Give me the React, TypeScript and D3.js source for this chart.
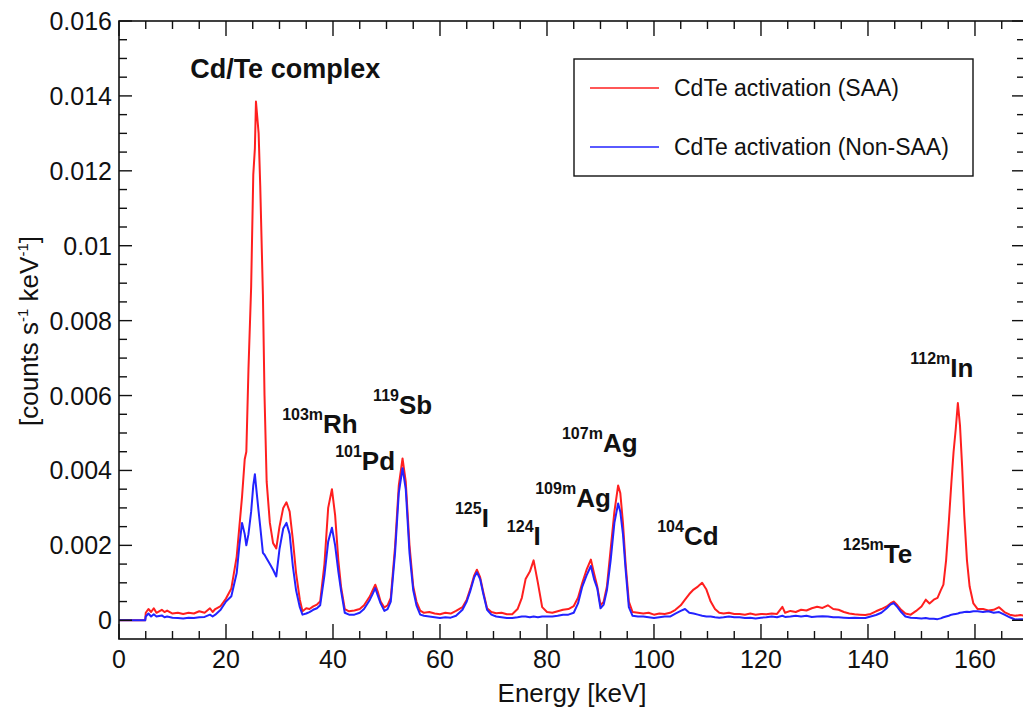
import React from "react";
import * as d3 from "d3";

// Spectrum values, in units of 1e-3 counts s^-1 keV^-1, as [energy keV, value]
const saaSeries: [number, number][] = [
  [0, 0], [4.9, 0], [5.0, 0.2], [5.5, 0.3], [6, 0.22], [6.5, 0.32], [7, 0.2], [8, 0.28], [8.5, 0.22], [9, 0.26],
  [10, 0.18], [11, 0.2], [12, 0.17], [13, 0.2], [14, 0.18], [15, 0.24], [16, 0.2], [17, 0.32], [17.5, 0.22], [18, 0.3],
  [19, 0.38], [20, 0.58], [21, 0.85], [22, 1.7], [22.5, 2.5], [23, 3.3], [23.5, 4.3], [23.8, 4.5], [24.2, 6.7], [24.7, 8.9],
  [25.1, 11.9], [25.4, 12.6], [25.6, 13.85], [26.1, 13.0], [26.4, 11.6], [26.9, 8.7], [27.2, 6.0], [27.6, 3.7], [28.2, 2.6], [28.8, 2.06],
  [29.4, 1.92], [30, 2.5], [30.7, 3.0], [31.3, 3.15], [31.9, 2.9], [32.5, 2.15], [33.1, 1.26], [33.8, 0.55], [34.3, 0.24], [35, 0.32],
  [35.6, 0.3], [36.3, 0.37], [37, 0.42], [37.6, 0.5], [38.4, 1.5], [39.1, 3.0], [39.8, 3.5], [40.4, 2.8], [41, 1.6], [41.5, 0.9],
  [42.2, 0.3], [43, 0.24], [44, 0.26], [45, 0.3], [45.8, 0.4], [46.9, 0.64], [47.4, 0.8], [47.9, 0.95], [48.4, 0.75], [48.9, 0.5],
  [49.6, 0.34], [50.2, 0.4], [50.8, 0.6], [51.6, 1.97], [52.3, 3.6], [53.0, 4.32], [53.6, 3.7], [54.3, 2.0], [55.0, 0.9], [55.6, 0.5],
  [56.3, 0.26], [57, 0.2], [58, 0.22], [59, 0.18], [60, 0.16], [61, 0.2], [62, 0.18], [63, 0.25], [64.2, 0.35], [65, 0.55],
  [65.7, 0.85], [66.4, 1.2], [66.9, 1.35], [67.5, 1.15], [68.1, 0.75], [68.8, 0.32], [69.6, 0.22], [70.5, 0.19], [71.5, 0.2], [72.5, 0.16],
  [73.5, 0.16], [74.5, 0.3], [75.3, 0.6], [76, 1.1], [76.8, 1.3], [77.5, 1.6], [78.3, 1.0], [79.1, 0.35], [80, 0.22], [81, 0.2],
  [82, 0.24], [83, 0.28], [84, 0.3], [85, 0.38], [85.8, 0.6], [86.6, 1.0], [87.4, 1.35], [88.2, 1.62], [88.8, 1.25], [89.4, 0.9],
  [90, 0.4], [90.6, 0.5], [91.2, 0.9], [91.9, 1.9], [92.6, 2.9], [93.3, 3.6], [93.7, 3.4], [94.2, 2.6], [94.7, 1.5], [95.3, 0.5],
  [96, 0.22], [97, 0.2], [98, 0.18], [99, 0.2], [100, 0.15], [101, 0.18], [102, 0.17], [103, 0.2], [104, 0.28], [105, 0.4],
  [105.8, 0.55], [106.6, 0.7], [107.4, 0.82], [108.2, 0.9], [109, 1.0], [109.8, 0.82], [110.6, 0.5], [111.4, 0.3], [112.2, 0.2], [113, 0.18],
  [114, 0.2], [115, 0.17], [116, 0.17], [117, 0.15], [118, 0.18], [119, 0.15], [120, 0.17], [121, 0.16], [122, 0.18], [123, 0.17],
  [124, 0.36], [124.5, 0.2], [125.5, 0.25], [126.5, 0.22], [127.5, 0.28], [128.5, 0.26], [129.5, 0.32], [130.5, 0.36], [131.5, 0.33], [132.5, 0.4],
  [133.5, 0.3], [134.5, 0.28], [135.5, 0.22], [136.5, 0.18], [137.5, 0.16], [138.5, 0.15], [139.5, 0.14], [140.5, 0.17], [141.5, 0.24], [142.5, 0.3],
  [143.5, 0.37], [144.2, 0.45], [144.8, 0.5], [145.5, 0.4], [146.2, 0.28], [147, 0.18], [148, 0.15], [149, 0.25], [150, 0.37], [150.8, 0.55],
  [151.5, 0.45], [152.3, 0.55], [153, 0.6], [153.6, 0.8], [154.1, 0.95], [154.6, 1.6], [155.1, 2.6], [155.6, 3.7], [156.0, 4.5], [156.4, 5.1],
  [156.8, 5.8], [157.2, 5.2], [157.6, 4.1], [158.0, 2.8], [158.5, 1.6], [159.0, 0.9], [159.7, 0.45], [160.5, 0.3], [161.5, 0.3], [162.5, 0.26],
  [163.5, 0.28], [164.5, 0.35], [165.5, 0.22], [166.5, 0.15], [167.5, 0.12], [168.5, 0.14], [169.5, 0.12],
];

const nonSaaSeries: [number, number][] = [
  [0, 0], [4.9, 0], [5.0, 0.1], [5.5, 0.18], [6, 0.1], [6.5, 0.16], [7, 0.1], [8, 0.13], [8.5, 0.08], [9, 0.1],
  [10, 0.07], [11, 0.06], [12, 0.05], [13, 0.07], [14, 0.06], [15, 0.08], [16, 0.09], [17, 0.15], [17.5, 0.1], [18, 0.15],
  [19, 0.28], [20, 0.5], [21, 0.64], [22, 1.26], [22.5, 2.0], [23, 2.6], [23.5, 2.3], [23.8, 2.0], [24.2, 2.3], [24.7, 2.9],
  [25.1, 3.6], [25.4, 3.9], [25.6, 3.6], [26.1, 2.9], [26.4, 2.5], [26.9, 1.8], [27.2, 1.75], [27.6, 1.65], [28.2, 1.5], [28.8, 1.35],
  [29.4, 1.17], [30, 1.9], [30.7, 2.45], [31.3, 2.6], [31.9, 2.3], [32.5, 1.44], [33.1, 0.8], [33.8, 0.35], [34.3, 0.15], [35, 0.18],
  [35.6, 0.22], [36.3, 0.28], [37, 0.32], [37.6, 0.4], [38.4, 1.2], [39.1, 2.1], [39.8, 2.47], [40.4, 2.0], [41, 1.3], [41.5, 0.8],
  [42.2, 0.2], [43, 0.15], [44, 0.15], [45, 0.2], [45.8, 0.3], [46.9, 0.55], [47.4, 0.7], [47.9, 0.86], [48.4, 0.65], [48.9, 0.45],
  [49.6, 0.25], [50.2, 0.3], [50.8, 0.5], [51.6, 1.8], [52.3, 3.4], [53.0, 4.06], [53.6, 3.5], [54.3, 1.8], [55.0, 0.8], [55.6, 0.4],
  [56.3, 0.15], [57, 0.12], [58, 0.1], [59, 0.08], [60, 0.06], [61, 0.08], [62, 0.07], [63, 0.12], [64.2, 0.28], [65, 0.5],
  [65.7, 0.8], [66.4, 1.15], [66.9, 1.28], [67.5, 1.1], [68.1, 0.7], [68.8, 0.28], [69.6, 0.15], [70.5, 0.1], [71.5, 0.08], [72.5, 0.06],
  [73.5, 0.06], [74.5, 0.08], [75.3, 0.1], [76, 0.1], [76.8, 0.08], [77.5, 0.1], [78.3, 0.08], [79.1, 0.1], [80, 0.1], [81, 0.1],
  [82, 0.12], [83, 0.15], [84, 0.15], [85, 0.2], [85.8, 0.45], [86.6, 0.9], [87.4, 1.2], [88.2, 1.45], [88.8, 1.1], [89.4, 0.85],
  [90, 0.32], [90.6, 0.42], [91.2, 0.8], [91.9, 1.6], [92.6, 2.6], [93.3, 3.12], [93.7, 2.9], [94.2, 2.3], [94.7, 1.35], [95.3, 0.35],
  [96, 0.12], [97, 0.1], [98, 0.1], [99, 0.08], [100, 0.06], [101, 0.08], [102, 0.1], [103, 0.1], [104, 0.18], [105, 0.25],
  [105.8, 0.3], [106.6, 0.2], [107.4, 0.18], [108.2, 0.15], [109, 0.12], [109.8, 0.1], [110.6, 0.1], [111.4, 0.08], [112.2, 0.07], [113, 0.08],
  [114, 0.1], [115, 0.08], [116, 0.08], [117, 0.06], [118, 0.07], [119, 0.05], [120, 0.07], [121, 0.08], [122, 0.1], [123, 0.08],
  [124, 0.12], [124.5, 0.09], [125.5, 0.1], [126.5, 0.12], [127.5, 0.1], [128.5, 0.12], [129.5, 0.09], [130.5, 0.1], [131.5, 0.11], [132.5, 0.1],
  [133.5, 0.08], [134.5, 0.08], [135.5, 0.07], [136.5, 0.06], [137.5, 0.07], [138.5, 0.06], [139.5, 0.06], [140.5, 0.1], [141.5, 0.14], [142.5, 0.2],
  [143.5, 0.32], [144.2, 0.42], [144.8, 0.46], [145.5, 0.35], [146.2, 0.22], [147, 0.1], [148, 0.07], [149, 0.06], [150, 0.05], [150.8, 0.06],
  [151.5, 0.04], [152.3, 0.04], [153, 0.03], [153.6, 0.05], [154.1, 0.08], [154.6, 0.1], [155.1, 0.12], [155.6, 0.15], [156.0, 0.16], [156.4, 0.17],
  [156.8, 0.18], [157.2, 0.2], [157.6, 0.21], [158.0, 0.22], [158.5, 0.23], [159.0, 0.22], [159.7, 0.24], [160.5, 0.24], [161.5, 0.22], [162.5, 0.24],
  [163.5, 0.2], [164.5, 0.22], [165.5, 0.15], [166.5, 0.08], [167.5, 0.02], [168.5, 0.03], [169.5, 0.02],
];

const VALUE_UNIT = 1e-3;

const seriesNames = ["CdTe activation (SAA)", "CdTe activation (Non-SAA)"];
const seriesColors = ["#ff1f1f", "#2323ff"];

const xMajorTicks = [0, 20, 40, 60, 80, 100, 120, 140, 160];
const yMajorTicks = [0, 0.002, 0.004, 0.006, 0.008, 0.01, 0.012, 0.014, 0.016];

// Isotope labels anchored in data coords: [superscript, element, energy, value(1e-3)]
const isotopeLabels: [string, string, number, number][] = [
  ["103m", "Rh", 30.5, 5.0],
  ["101", "Pd", 40.4, 4.01],
  ["119", "Sb", 47.5, 5.51],
  ["125", "I", 62.8, 2.49],
  ["124", "I", 72.5, 2.01],
  ["107m", "Ag", 82.8, 4.49],
  ["109m", "Ag", 77.8, 3.03],
  ["104", "Cd", 100.6, 2.01],
  ["125m", "Te", 135.3, 1.53],
  ["112m", "In", 147.9, 6.49],
];
const complexLabel: [string, number, number] = ["Cd/Te complex", 13.3, 14.47];

const W = 1023;
const H = 713;
const left = 119, right = 1025, top = 21, bottom = 639;
const FONT = "'Liberation Sans', Arial, Helvetica, sans-serif";

export default function App() {
  const x = d3.scaleLinear().domain([0, 169.35]).range([left, right]);
  const y = d3.scaleLinear().domain([-0.0005, 0.016]).range([bottom, top]);

  const line = d3
    .line<[number, number]>()
    .x((d) => x(d[0]))
    .y((d) => y(d[1] * VALUE_UNIT));

  const xMinor = d3.range(0, 169, 5);
  const yMinor = d3.range(0, 0.01601, 0.0005);

  const fmtY = (v: number) => String(+v.toFixed(3));

  return (
    <svg
      width={W}
      height={H}
      style={{ position: "fixed", left: 0, top: 0, background: "#fff" }}
      fontFamily={FONT}
    >
      <rect x={0} y={0} width={W} height={H} fill="#fff" />
      <defs>
        <clipPath id="plot">
          <rect x={left} y={top} width={right - left} height={bottom - top} />
        </clipPath>
      </defs>

      {/* lines */}
      <g clipPath="url(#plot)" fill="none" strokeWidth={2} strokeLinejoin="round">
        <path d={line(saaSeries) || ""} stroke={seriesColors[0]} />
        <path d={line(nonSaaSeries) || ""} stroke={seriesColors[1]} />
      </g>

      {/* frame */}
      <rect x={left} y={top} width={right - left} height={bottom - top} fill="none" stroke="#111" strokeWidth={1.6} />

      {/* ticks */}
      <g stroke="#111" strokeWidth={1.4}>
        {xMinor.map((t) => {
          const major = t % 20 === 0;
          const len = major ? 15 : 8;
          return (
            <g key={"xt" + t}>
              <line x1={x(t)} x2={x(t)} y1={bottom} y2={bottom - len} />
              <line x1={x(t)} x2={x(t)} y1={top} y2={top + len} />
            </g>
          );
        })}
        {yMinor.map((t, i) => {
          const major = i % 4 === 0;
          const len = major ? 13 : 8;
          return (
            <g key={"yt" + i}>
              <line x1={left} x2={left + len} y1={y(t)} y2={y(t)} />
              <line x1={right} x2={right - len} y1={y(t)} y2={y(t)} />
            </g>
          );
        })}
      </g>

      {/* tick labels */}
      <g fontSize={25} fill="#111">
        {xMajorTicks.map((t) => (
          <text key={"xl" + t} x={x(t)} y={668} textAnchor="middle">
            {t}
          </text>
        ))}
        {yMajorTicks.map((t) => (
          <text key={"yl" + t} x={112} y={y(t) + 9} textAnchor="end">
            {fmtY(t)}
          </text>
        ))}
      </g>

      {/* axis titles */}
      <text x={572} y={702} textAnchor="middle" fontSize={26} fill="#111">
        Energy [keV]
      </text>
      <text
        transform={`translate(38, 331) rotate(-90)`}
        textAnchor="middle"
        fontSize={26}
        fill="#111"
      >
        [counts s
        <tspan fontSize={15} dy={-10}>-1</tspan>
        <tspan dy={10}> keV</tspan>
        <tspan fontSize={15} dy={-10}>-1</tspan>
        <tspan dy={10}>]</tspan>
      </text>

      {/* annotations */}
      <g fontWeight="bold" fill="#111">
        <text x={x(complexLabel[1])} y={y(complexLabel[2] * VALUE_UNIT)} fontSize={27}>
          {complexLabel[0]}
        </text>
        {isotopeLabels.map(([sup, el, e, v], i) => (
          <text key={"iso" + i} x={x(e)} y={y(v * VALUE_UNIT)} fontSize={26}>
            <tspan fontSize={16} dy={-13}>{sup}</tspan>
            <tspan dy={13}>{el}</tspan>
          </text>
        ))}
      </g>

      {/* legend */}
      <g>
        <rect x={574} y={59} width={399} height={117} fill="#fff" stroke="#111" strokeWidth={1.4} />
        {seriesNames.map((name, i) => (
          <g key={name}>
            <line x1={590} x2={659} y1={88 + i * 59} y2={88 + i * 59} stroke={seriesColors[i]} strokeWidth={1.6} />
            <text x={674} y={88 + i * 59 + 8} fontSize={23} fill="#111">
              {name}
            </text>
          </g>
        ))}
      </g>
    </svg>
  );
}
